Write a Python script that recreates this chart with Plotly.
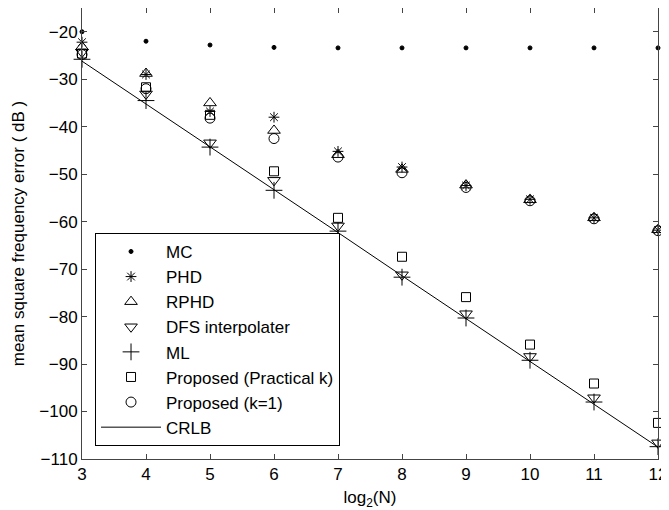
import plotly.graph_objects as go

log2N = [3, 4, 5, 6, 7, 8, 9, 10, 11, 12]
xticks = [3, 4, 5, 6, 7, 8, 9, 10, 11, 12]
yticks = [-20, -30, -40, -50, -60, -70, -80, -90, -100, -110]

MC = [-20.0, -22.0, -22.8, -23.3, -23.4, -23.4, -23.4, -23.4, -23.4, -23.4]
PHD = [-22.2, -29.0, -36.8, -38.0, -45.2, -48.5, -52.4, -55.3, -59.2, -61.8]
RPHD = [-23.2, -28.8, -35.0, -40.8, -45.9, -49.0, -52.3, -55.4, -59.2, -61.7]
DFS = [-24.3, -33.1, -43.4, -51.3, -60.9, -71.2, -79.4, -88.4, -97.1, -106.6]
ML = [-25.8, -34.5, -44.3, -53.4, -62.0, -71.7, -80.3, -89.2, -98.0, -107.4]
PROP_PRACT = [-24.6, -31.7, -37.5, -49.4, -59.2, -67.4, -75.9, -85.9, -94.1, -102.4]
PROP_K1 = [-24.8, -32.0, -38.2, -42.5, -46.4, -49.7, -52.8, -55.6, -59.4, -61.9]
CRLB = [-26.2, -35.2, -44.3, -53.3, -62.3, -71.4, -80.4, -89.4, -98.5, -107.5]

FONT = "Liberation Sans, Arial, Helvetica, sans-serif"

fig = go.Figure()

def add_markers(name, y, symbol, size, grp):
    fig.add_trace(go.Scatter(
        x=log2N, y=y, mode="markers", name=name, legendgroup=grp,
        cliponaxis=False,
        marker=dict(symbol=symbol, size=size, color="black",
                    line=dict(color="black", width=1)),
    ))

add_markers("MC", MC, "circle", 4, "a")
add_markers("PHD", PHD, "asterisk-open", 9, "b")
add_markers("RPHD", RPHD, "triangle-up-open", 11, "c")
add_markers("DFS interpolater", DFS, "triangle-down-open", 11, "d")
add_markers("ML", ML, "cross-thin-open", 12, "e")
add_markers("Proposed (Practical k)", PROP_PRACT, "square-open", 9, "f")
add_markers("Proposed (k=1)", PROP_K1, "circle-open", 10, "g")
fig.add_trace(go.Scatter(
    x=log2N, y=CRLB, mode="lines", name="CRLB", legendgroup="h",
    line=dict(color="black", width=1),
))

axis_common = dict(
    showline=True, linecolor="#444", linewidth=1, mirror="ticks",
    ticks="inside", ticklen=5, tickcolor="#444",
    showgrid=False, zeroline=False,
    tickfont=dict(family=FONT, size=17, color="black"),
)

# the page adds an 8px body margin on the left and top
fig.update_layout(
    width=661, height=502,
    margin=dict(l=74, r=11, t=0, b=51),
    plot_bgcolor="white", paper_bgcolor="white",
    font=dict(family=FONT, size=17, color="black"),
    xaxis=dict(range=[3, 12], tickvals=xticks, title=dict(
        text="log<sub>2</sub>(N)", font=dict(size=17), standoff=10),
        **axis_common),
    yaxis=dict(range=[-110, -15], tickvals=yticks, title=dict(
        text="mean square frequency error ( dB )", font=dict(size=17), standoff=10),
        **axis_common),
    legend=dict(
        x=0.0226, y=0.029, xanchor="left", yanchor="bottom",
        bordercolor="black", borderwidth=1, bgcolor="white",
        font=dict(family=FONT, size=17),
        tracegroupgap=0, itemwidth=60,
    ),
    showlegend=True,
)

fig.write_html("out.html")
